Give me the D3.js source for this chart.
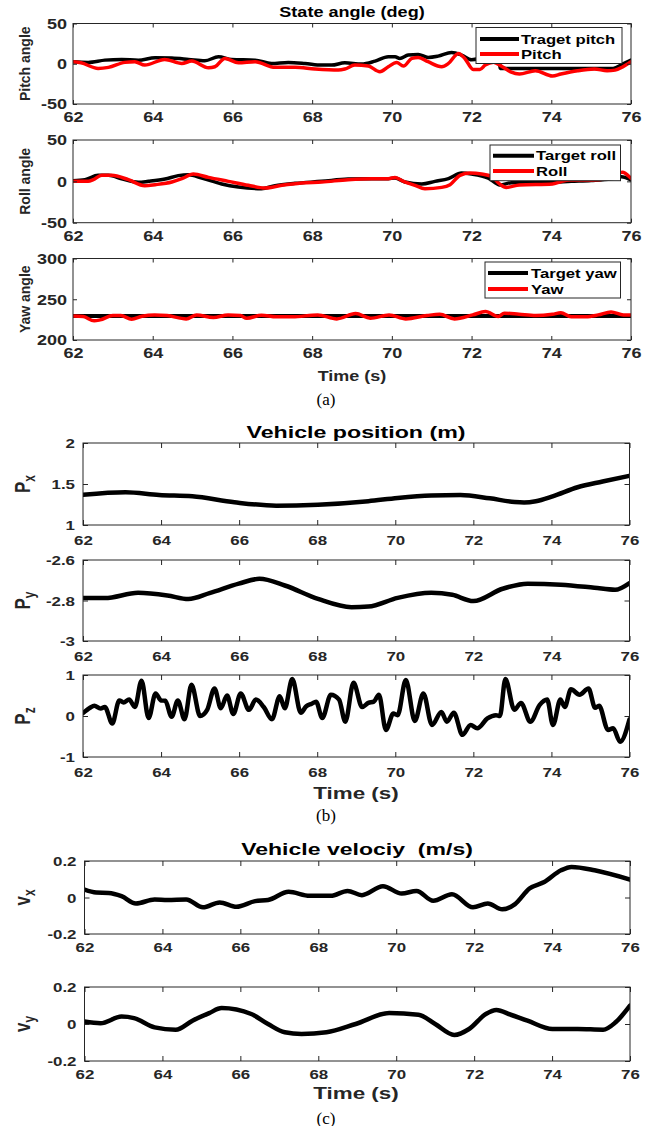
<!DOCTYPE html>
<html><head><meta charset="utf-8">
<script src="https://cdn.jsdelivr.net/npm/d3@7"></script>
<style>
body{margin:0;background:#fff}
svg{display:block}
text{font-family:"Liberation Sans",Arial,sans-serif;font-weight:bold;fill:#262626}
</style>
</head><body>
<svg id="c" width="657" height="1126"></svg>
<script>
// ---------------- DATA ----------------
const xTicks = [62,64,66,68,70,72,74,76];
const angleTicks = [-50,0,50];
const yawTicks = [200,250,300];
const pxTicks = [1,1.5,2];
const pyTicks = [-3,-2.8,-2.6];
const pzTicks = [-1,0,1];
const velTicks = [-0.2,0,0.2];

const pitchTargetT = [62,62.38,62.8,63.22,63.64,64.06,64.48,64.9,65.31,65.65,65.98,66.57,66.98,67.4,67.82,68.24,68.49,68.82,69.24,69.58,69.91,70.08,70.2,70.41,70.66,70.91,71.16,71.5,71.75,72.0,72.4,72.69,72.72,73.5,74.5,75.55,75.8,76];
const pitchTargetV = [2.5,1.7,4.5,5.4,4.5,7.5,7,5.4,3.7,8.7,5.4,4.5,0.4,1.7,0.4,-1.7,-1.7,1.2,-0.4,3.3,8.7,8.7,6.6,10.8,11.6,7.9,9.5,14,10.8,5,8,8,-5.8,-5.8,-5.8,-5.8,0,4.5];
const pitchT = [62,62.2,62.63,62.89,63.3,63.55,63.8,64.3,64.73,64.98,65.4,65.56,65.81,66.15,66.57,67.07,67.57,68.07,68.66,68.82,69.07,69.41,69.7,69.91,70.12,70.29,70.5,70.66,70.91,71.25,71.42,71.67,71.83,72.04,72.21,72.34,72.55,72.77,72.98,73.2,73.6,74.03,74.24,74.66,75.08,75.4,75.6,75.8,76];
const pitchV = [2.5,1.2,-5.8,-4.5,1.7,2.5,-1.7,5.4,0.4,3.3,-5,-3.7,6.6,1.2,2.5,-4.5,-4.5,-6.6,-7.9,-6.6,-1.7,-2.9,-9.9,-3.7,1.7,-2.9,6.6,7.9,2.5,-3.7,0.4,12.8,6.6,-7,-7,-1.7,2,-3.7,-10,-12.8,-8.7,-15.3,-12.8,-8.7,-6.6,-8.7,-7.9,-3.7,2.5];

const rollTargetT = [62,62.3,62.63,62.89,63.22,63.64,63.89,64.31,64.64,64.9,65.23,65.73,66.15,66.73,67.07,67.57,68.24,68.9,69.5,69.91,70.08,70.33,70.75,71.08,71.42,71.75,72.0,72.42,72.71,73.0,73.5,74.0,74.5,75.0,75.5,75.76,76];
const rollTargetV = [0.8,2,7.3,7.3,3.2,-1.2,0,2.8,6.9,8,4,-3.2,-6.9,-8.9,-5.2,-2.4,0,2.8,3.2,3.2,4,-0.8,-3.2,0,3.2,10,8.9,4,-4.4,-1.6,-1.6,-1.2,0,1,3,5.6,1.6];
const rollT = [62,62.38,62.51,62.72,62.97,63.39,63.8,64.06,64.48,64.73,65.02,65.4,65.9,66.4,66.82,67.24,67.74,68.24,68.9,69.5,69.91,70.08,70.29,70.58,70.83,71.25,71.46,71.71,71.96,72.25,72.5,72.7,72.87,73.2,74.03,74.24,74.45,74.87,75.2,75.5,75.78,76];
const rollV = [0,0,2,7.3,7.3,2,-5.2,-4,-0.8,3.2,8.9,4.8,0,-4.8,-8,-4.8,-2,-0.8,2,3.2,3.2,4.8,0,-4.8,-8.9,-7.3,-4,7.3,10,8.9,6,-3,-7.3,-4.4,-3.2,-0.4,1.6,1.6,2,6,11,3.6];

const yawTargetT = [62,76];
const yawTargetV = [229.5,229.5];
const yawT = [62,62.26,62.53,62.68,63.0,63.2,63.47,63.73,64.05,64.36,64.84,65.1,65.52,65.89,66.2,66.36,66.73,67.1,67.51,68.14,68.62,69.09,69.46,69.93,70.35,70.88,71.2,71.57,72.03,72.35,72.67,72.82,73.19,73.61,74.03,74.24,74.5,74.87,75.18,75.5,75.81,76];
const yawV = [229.6,228.8,223.5,224.7,230,230,225.5,229.2,230.8,230,225.9,230.8,227.6,230.8,230,226.7,230.4,228.4,228.4,230.8,225.9,232.4,226.7,230.8,225.9,230,231.6,225.9,230.8,234.9,228.8,232.9,231.6,230,231.6,233.3,228.4,228.4,230.8,234.5,230.8,230.8];

const pxT = [62,63.09,63.95,64.8,65.88,66.95,68.02,69.31,70.06,70.92,71.67,72.42,73.06,73.3,73.6,74.03,74.67,75.31,76];
const pxV = [1.37,1.4,1.366,1.35,1.277,1.236,1.248,1.29,1.33,1.36,1.366,1.325,1.28,1.275,1.29,1.35,1.46,1.53,1.6];
const pyT = [62,62.56,63.41,64.16,64.7,65.24,65.99,66.52,67.17,68.02,68.88,69.31,70.06,70.92,71.46,72.0,72.75,73.39,74.24,75.1,75.63,76];
const pyV = [-2.788,-2.788,-2.762,-2.775,-2.793,-2.764,-2.717,-2.693,-2.726,-2.792,-2.833,-2.83,-2.787,-2.762,-2.772,-2.803,-2.742,-2.717,-2.722,-2.737,-2.747,-2.714];
const pzT = [62,62.18,62.29,62.45,62.56,62.75,62.93,63.04,63.18,63.33,63.5,63.68,63.86,64.0,64.11,64.27,64.43,64.6,64.78,65.0,65.18,65.37,65.53,65.69,65.85,66.04,66.25,66.43,66.63,66.84,67.04,67.17,67.36,67.58,67.72,67.86,67.97,68.13,68.35,68.56,68.72,68.93,69.15,69.31,69.45,69.58,69.76,69.95,70.06,70.27,70.5,70.72,70.94,71.18,71.32,71.5,71.72,71.93,72.1,72.36,72.58,72.68,72.82,73.05,73.22,73.46,73.7,73.89,74.04,74.23,74.34,74.5,74.72,74.95,75.12,75.22,75.45,75.58,75.76,76];
const pzV = [0.07,0.2,0.25,0.18,0.22,-0.18,0.38,0.33,0.4,0.22,0.86,-0.05,0.55,0.38,0.37,-0.02,0.38,-0.08,0.76,0.0,0.15,0.67,0.19,0.5,0.05,0.55,0.15,0.4,0.22,-0.08,0.48,0.19,0.9,0.08,0.24,0.3,0.35,-0.05,0.52,0.4,-0.14,0.81,0.22,0.32,0.35,0.52,-0.34,0.06,0.02,0.88,-0.12,0.55,-0.22,0.1,-0.14,0.08,-0.46,-0.22,-0.3,-0.06,0.02,0.0,0.9,0.15,0.32,-0.14,0.27,0.4,-0.22,0.4,0.22,0.65,0.52,0.67,0.2,0.25,-0.34,-0.3,-0.63,-0.08];

const vxT = [62,62.3,62.62,62.95,63.32,63.8,64.13,64.61,65.04,65.47,65.9,66.38,66.71,67.24,67.78,68.32,68.75,69.12,69.66,70.14,70.52,70.95,71.43,71.97,72.35,72.72,73.05,73.42,73.8,74.23,74.5,75.09,76];
const vxV = [0.043,0.027,0.025,0.007,-0.033,-0.011,-0.014,-0.011,-0.054,-0.027,-0.051,-0.02,-0.014,0.031,0.009,0.009,0.036,0.013,0.062,0.022,0.036,-0.018,0.018,-0.054,-0.033,-0.065,-0.036,0.049,0.085,0.149,0.167,0.149,0.098];
const vyT = [62,62.41,62.95,63.27,63.8,64.34,64.77,65.2,65.52,66.28,66.71,67.14,67.57,68.21,68.96,69.82,70.57,71.0,71.49,71.87,72.3,72.57,72.94,73.37,74.01,74.66,75.31,75.63,76];
const vyV = [0.013,0.004,0.04,0.032,-0.018,-0.031,0.018,0.059,0.086,0.054,0,-0.045,-0.054,-0.045,0,0.059,0.05,0,-0.059,-0.027,0.054,0.076,0.05,0.018,-0.027,-0.027,-0.031,0.009,0.099];

// ---------------- DRAWING ----------------
const svg = d3.select('#c');
const INK = '#262626';

function stext(x, y, str, o={}) {
  const size = o.size||14, sx = o.sx||1;
  const t = svg.append('text')
    .attr('transform', `translate(${x},${y}) scale(${sx},1)` + (o.rotate ? ` rotate(${o.rotate})` : ''))
    .attr('text-anchor', o.anchor||'middle')
    .attr('dominant-baseline', o.baseline||'central')
    .style('font-size', size+'px');
  if (o.family) t.style('font-family', o.family);
  if (o.weight) t.style('font-weight', o.weight);
  if (o.fill) t.style('fill', o.fill);
  if (o.sub) {
    t.append('tspan').text(str);
    t.append('tspan').attr('dy', o.subDy).style('font-size', o.subSize+'px').text(o.sub);
  } else t.text(str);
  return t;
}

let clipN = 0;
function panel(p) {
  const x = d3.scaleLinear().domain([62,76]).range([p.x0,p.x1]);
  const y = d3.scaleLinear().domain([p.yTicks[0], p.yTicks[p.yTicks.length-1]]).range([p.y1,p.y0]);
  const id = 'clip'+(clipN++);
  svg.append('clipPath').attr('id',id).append('rect')
    .attr('x',p.x0).attr('y',p.y0-2).attr('width',p.x1-p.x0).attr('height',p.y1-p.y0+4);
  const g = svg.append('g');
  const line = d3.line().x(d=>x(d[0])).y(d=>y(d[1])).curve(d3.curveMonotoneX);
  p.series.forEach(s => {
    g.append('path').datum(s.t.map((t,i)=>[t,s.v[i]]))
      .attr('clip-path',`url(#${id})`)
      .attr('fill','none').attr('stroke',s.color).attr('stroke-width',s.w)
      .attr('stroke-linejoin','round').attr('stroke-linecap','round')
      .attr('d', line);
  });
  const tl = p.tick||4;
  const bottom = svg.append('g').attr('transform',`translate(0,${p.y1})`)
    .call(d3.axisBottom(x).tickValues(xTicks).tickSizeInner(-tl).tickSizeOuter(0));
  const top = svg.append('g').attr('transform',`translate(0,${p.y0})`)
    .call(d3.axisTop(x).tickValues(xTicks).tickSizeInner(-tl).tickSizeOuter(0).tickFormat(''));
  const left = svg.append('g').attr('transform',`translate(${p.x0},0)`)
    .call(d3.axisLeft(y).tickValues(p.yTicks).tickSizeInner(-tl).tickSizeOuter(0).tickFormat(d=>String(d)));
  const right = svg.append('g').attr('transform',`translate(${p.x1},0)`)
    .call(d3.axisRight(y).tickValues(p.yTicks).tickSizeInner(-tl).tickSizeOuter(0).tickFormat(''));
  [bottom,top,left,right].forEach(a => {
    a.select('.domain').remove();
    a.selectAll('line').attr('stroke',INK).attr('stroke-width',1);
    a.attr('font-family',null).attr('font-size',null);
  });
  bottom.selectAll('text').attr('y', p.xLabOff).attr('dy',null)
    .attr('dominant-baseline','central')
    .attr('transform',`scale(${p.tsx},1)`).style('font-size',p.tfs+'px').style('fill',INK);
  left.selectAll('text').attr('x', -p.yLabGap/p.tsx).attr('dy',null)
    .attr('dominant-baseline','central')
    .attr('transform',`scale(${p.tsx},1)`).style('font-size',p.tfs+'px').style('fill',INK);
  svg.append('rect').attr('x',p.x0).attr('y',p.y0).attr('width',p.x1-p.x0).attr('height',p.y1-p.y0)
    .attr('fill','none').attr('stroke',INK).attr('stroke-width',1);
  if (p.legend) {
    const L = p.legend;
    svg.append('rect').attr('x',L.x0).attr('y',L.y0).attr('width',L.x1-L.x0).attr('height',L.y1-L.y0)
      .attr('fill','#fff').attr('stroke',INK).attr('stroke-width',1);
    L.items.forEach((it,i) => {
      const yy = L.rows[i];
      svg.append('line').attr('x1',L.lx0).attr('x2',L.lx1).attr('y1',yy).attr('y2',yy)
        .attr('stroke',it.color).attr('stroke-width',4);
      stext(L.tx, yy, it.label, {size:13, sx:1.28, anchor:'start', fill:'#000'});
    });
  }
  return {x,y};
}

// ---- (a) State angle ----
const A = {x0:73, x1:631, tfs:15, tsx:1.2, xLabOff:13, yLabGap:6, tick:4};
stext(352, 12, 'State angle (deg)', {size:14, sx:1.29, fill:'#000'});
panel({...A, y0:23.5, y1:104, yTicks:angleTicks,
  series:[{t:pitchTargetT,v:pitchTargetV,color:'#000',w:3.5},{t:pitchT,v:pitchV,color:'#f00',w:3.5}],
  legend:{x0:476,x1:622,y0:27.5,y1:63.5,lx0:480,lx1:519,tx:521,rows:[39,54],
    items:[{label:'Traget pitch',color:'#000'},{label:'Pitch',color:'#f00'}]}});
stext(29.5, 63.75, 'Pitch angle', {size:14, rotate:-90, baseline:'alphabetic'});
panel({...A, y0:140, y1:222.7, yTicks:angleTicks,
  series:[{t:rollTargetT,v:rollTargetV,color:'#000',w:3.5},{t:rollT,v:rollV,color:'#f00',w:3.5}],
  legend:{x0:490,x1:620.5,y0:145,y1:180.7,lx0:493,lx1:534,tx:536,rows:[155.7,171],
    items:[{label:'Target roll',color:'#000'},{label:'Roll',color:'#f00'}]}});
stext(29.5, 181.3, 'Roll angle', {size:14, rotate:-90, baseline:'alphabetic'});
panel({...A, y0:258.5, y1:340, yTicks:yawTicks,
  series:[{t:yawTargetT,v:yawTargetV,color:'#000',w:4},{t:yawT,v:yawV,color:'#f00',w:3.5}],
  legend:{x0:485,x1:620.5,y0:262,y1:298,lx0:488,lx1:528,tx:531,rows:[273,289],
    items:[{label:'Target yaw',color:'#000'},{label:'Yaw',color:'#f00'}]}});
stext(29.5, 299.25, 'Yaw angle', {size:14, rotate:-90, baseline:'alphabetic'});
stext(352, 376, 'Time (s)', {size:15, sx:1.2});
stext(326, 399, '(a)', {size:17, family:'"Liberation Serif","Times New Roman",serif', weight:'normal', fill:'#000'});

// ---- (b) Vehicle position ----
const B = {x0:83, x1:629.5, tfs:13, tsx:1.3, xLabOff:15, yLabGap:8, tick:5};
stext(356, 432, 'Vehicle position (m)', {size:16, sx:1.45, fill:'#000'});
panel({...B, y0:443, y1:525, yTicks:pxTicks, series:[{t:pxT,v:pxV,color:'#000',w:4.5}]});
stext(30, 484, 'P', {size:17, sx:1.3, rotate:-90, baseline:'alphabetic', sub:'x', subDy:4, subSize:12});
panel({...B, y0:560, y1:641, yTicks:pyTicks, series:[{t:pyT,v:pyV,color:'#000',w:4.5}]});
stext(30, 600.5, 'P', {size:17, sx:1.3, rotate:-90, baseline:'alphabetic', sub:'y', subDy:4, subSize:12});
panel({...B, y0:675, y1:757, yTicks:pzTicks, series:[{t:pzT,v:pzV,color:'#000',w:4.5}]});
stext(30, 716, 'P', {size:17, sx:1.3, rotate:-90, baseline:'alphabetic', sub:'z', subDy:4, subSize:12});
stext(356, 793, 'Time (s)', {size:16, sx:1.4});
stext(326, 815, '(b)', {size:17, family:'"Liberation Serif","Times New Roman",serif', weight:'normal', fill:'#000'});

// ---- (c) Vehicle velocity ----
const C = {x0:84.5, x1:630, tfs:13, tsx:1.3, xLabOff:13, yLabGap:8, tick:5};
stext(357, 849, 'Vehicle velociy  (m/s)', {size:16, sx:1.44, fill:'#000'}).style('white-space','pre');
panel({...C, y0:861, y1:934, yTicks:velTicks, series:[{t:vxT,v:vxV,color:'#000',w:4.5}]});
stext(30, 897.5, 'v', {size:17, sx:1.3, rotate:-90, baseline:'alphabetic', sub:'x', subDy:4, subSize:12});
panel({...C, y0:987, y1:1061, yTicks:velTicks, series:[{t:vyT,v:vyV,color:'#000',w:4.5}]});
stext(30, 1024, 'v', {size:17, sx:1.3, rotate:-90, baseline:'alphabetic', sub:'y', subDy:4, subSize:12});
stext(356, 1093, 'Time (s)', {size:16, sx:1.4});
stext(326, 1118, '(c)', {size:17, family:'"Liberation Serif","Times New Roman",serif', weight:'normal', fill:'#000'});
</script>
</body></html>
